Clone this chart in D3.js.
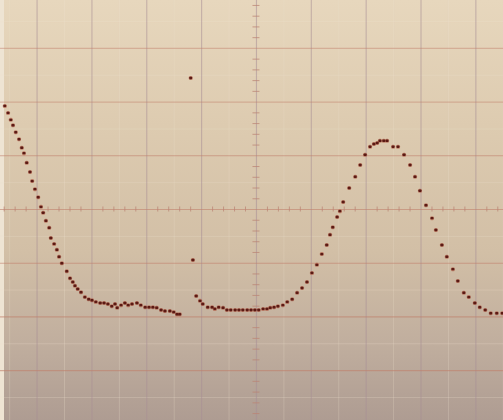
<!DOCTYPE html>
<html>
<head>
<meta charset="utf-8">
<script src="https://cdn.jsdelivr.net/npm/d3@7"></script>
<style>
  html, body { margin: 0; padding: 0; background: #efe6d6; }
  svg { display: block; }
</style>
</head>
<body>
<svg id="scope" width="503" height="420"></svg>
<script>
/* trace, in graticule divisions (0,0 = screen centre) */
var traceTime = [
  -4.58, -4.52, -4.47, -4.43, -4.38, -4.32, -4.27, -4.23, -4.18, -4.12,
  -4.08, -4.03, -3.97, -3.92, -3.88, -3.83, -3.77, -3.74, -3.68, -3.63,
  -3.59, -3.54, -3.45, -3.39, -3.34, -3.30, -3.25, -3.19, -3.12, -3.05,
  -2.99, -2.92, -2.84, -2.77, -2.70, -2.63, -2.57, -2.53, -2.46, -2.39,
  -2.33, -2.26, -2.17, -2.10, -2.02, -1.95, -1.88, -1.81, -1.73, -1.66,
  -1.57, -1.50, -1.44, -1.39
];
var traceVolts = [
   1.92,  1.79,  1.66,  1.56,  1.43,  1.30,  1.14,  1.04,  0.86,  0.69,
   0.52,  0.37,  0.22,  0.04, -0.07, -0.22, -0.35, -0.54, -0.65, -0.76,
  -0.89, -1.01, -1.16, -1.29, -1.36, -1.43, -1.49, -1.55, -1.64, -1.68,
  -1.70, -1.73, -1.75, -1.75, -1.77, -1.81, -1.77, -1.84, -1.79, -1.75,
  -1.79, -1.77, -1.75, -1.79, -1.83, -1.83, -1.83, -1.84, -1.88, -1.90,
  -1.90, -1.92, -1.96, -1.96
];

// stray samples in the gap
var strayTime  = [-1.19, -1.15];
var strayVolts = [ 2.44, -0.95];

var pulseTime = [
  -1.09, -1.02, -0.97, -0.88, -0.80, -0.75, -0.68, -0.60, -0.53, -0.46,
  -0.38, -0.31, -0.24, -0.16, -0.09, -0.02,  0.05,  0.13,  0.20,  0.26,
   0.33,  0.40,  0.49,  0.57,  0.66,  0.75,  0.84,  0.93,  1.02,  1.11,
   1.20,  1.29,  1.35,  1.40,  1.48,  1.53,  1.59,  1.70,  1.81,  1.90,
   1.99,  2.08,  2.15,  2.21,  2.26,  2.33,  2.39,  2.50,  2.59,  2.70,
   2.81,  2.90,  2.99,  3.10,  3.21,  3.28,  3.39,  3.48,  3.59,  3.68,
   3.79,  3.88,  3.99,  4.08,  4.18,  4.28,  4.39,  4.49
];
var pulseVolts = [
  -1.62, -1.71, -1.77, -1.83, -1.83, -1.86, -1.83, -1.84, -1.88, -1.88,
  -1.88, -1.88, -1.88, -1.88, -1.88, -1.88, -1.88, -1.86, -1.86, -1.84,
  -1.83, -1.81, -1.79, -1.73, -1.68, -1.56, -1.47, -1.36, -1.19, -1.04,
  -0.84, -0.67, -0.48, -0.34, -0.15, -0.04,  0.13,  0.39,  0.60,  0.82,
   1.01,  1.16,  1.21,  1.23,  1.27,  1.27,  1.27,  1.16,  1.16,  1.01,
   0.82,  0.60,  0.34,  0.07, -0.17, -0.39, -0.67, -0.89, -1.12, -1.34,
  -1.56, -1.64, -1.75, -1.83, -1.88, -1.94, -1.94, -1.94
];

var majorTimeTicks  = [-4, -3, -2, -1, 0, 1, 2, 3, 4];
var majorVoltTicks  = [-3, -2, -1, 0, 1, 2, 3];

var W = 503, H = 420;
var svg = d3.select("#scope");

var x = d3.scaleLinear().domain([-4.667, 4.504]).range([0, W]);
var y = d3.scaleLinear().domain([3.892, -3.929]).range([0, H]);

// screen background, light on top, greyer towards the bottom
var defs = svg.append("defs");
var grad = defs.append("linearGradient")
  .attr("id", "screenBg").attr("x1", 0).attr("y1", 0).attr("x2", 0).attr("y2", 1);
grad.append("stop").attr("offset", "0%").attr("stop-color", "#e7d7bd");
grad.append("stop").attr("offset", "30%").attr("stop-color", "#ddcbb0");
grad.append("stop").attr("offset", "60%").attr("stop-color", "#d2bfa6");
grad.append("stop").attr("offset", "82%").attr("stop-color", "#c0ae9e");
grad.append("stop").attr("offset", "100%").attr("stop-color", "#ae9c92");

svg.append("rect")
  .attr("x", 0).attr("y", 0).attr("width", W).attr("height", H)
  .attr("fill", "url(#screenBg)");

// light strip at the left border of the photo
svg.append("rect")
  .attr("x", 0).attr("y", 0).attr("width", 4).attr("height", H)
  .attr("fill", "#eee4d3");

// faint lighter half-division lines
var minorT = d3.range(-4.5, 4.6, 1);
var minorV = d3.range(-3.5, 3.6, 1);
svg.append("g").attr("class", "minor")
  .attr("transform", "translate(0," + H + ")")
  .call(d3.axisBottom(x).tickValues(minorT).tickSize(-H).tickFormat(""))
  .call(g => g.select(".domain").remove())
  .call(g => g.selectAll("line").attr("stroke", "#efe2cf").attr("stroke-width", 1).attr("opacity", 0.25));

svg.append("g").attr("class", "minor")
  .call(d3.axisLeft(y).tickValues(minorV).tickSize(-W).tickFormat(""))
  .call(g => g.select(".domain").remove())
  .call(g => g.selectAll("line").attr("stroke", "#efe2cf").attr("stroke-width", 1).attr("opacity", 0.25));

// major graticule
svg.append("g").attr("class", "grid-x")
  .attr("transform", "translate(0," + H + ")")
  .call(d3.axisBottom(x).tickValues(majorTimeTicks).tickSize(-H).tickFormat(""))
  .call(g => g.select(".domain").remove())
  .call(g => g.selectAll("line").attr("stroke", "#a88e96").attr("stroke-width", 1.1).attr("opacity", 0.55));

svg.append("g").attr("class", "grid-y")
  .call(d3.axisLeft(y).tickValues(majorVoltTicks).tickSize(-W).tickFormat(""))
  .call(g => g.select(".domain").remove())
  .call(g => g.selectAll("line").attr("stroke", "#c0806c").attr("stroke-width", 1.1)
    .attr("opacity", d => d >= 2 ? 0.45 : 0.6));

// centre axes sub-division marks (5 per division)
var subT = d3.range(-4.6, 4.6, 0.2).filter(d => Math.abs(d - Math.round(d)) > 0.01);
var subV = d3.range(-3.8, 3.9, 0.2).filter(d => Math.abs(d - Math.round(d)) > 0.01);

svg.append("g").attr("class", "sub-x")
  .attr("transform", "translate(0," + (y(0) + 2.5) + ")")
  .call(d3.axisTop(x).tickValues(subT).tickSize(5).tickFormat(""))
  .call(g => g.select(".domain").remove())
  .call(g => g.selectAll("line").attr("stroke", "#bb8474").attr("stroke-width", 1).attr("opacity", 0.75));

svg.append("g").attr("class", "sub-y")
  .attr("transform", "translate(" + (x(0) + 3.5) + ",0)")
  .call(d3.axisLeft(y).tickValues(subV).tickSize(7).tickFormat(""))
  .call(g => g.select(".domain").remove())
  .call(g => g.selectAll("line").attr("stroke", "#bb8474").attr("stroke-width", 1).attr("opacity", 0.75));

// trace dots
function drawDots(ts, vs, cls) {
  var pts = ts.map((t, i) => ({t: t, v: vs[i]}));
  var g = svg.append("g").attr("class", cls);
  g.selectAll("rect.halo")
    .data(pts)
    .join("rect")
      .attr("class", "halo")
      .attr("x", d => x(d.t) - 2)
      .attr("y", d => y(d.v) - 2)
      .attr("width", 4)
      .attr("height", 4)
      .attr("rx", 1.5)
      .attr("fill", "#a8452f")
      .attr("opacity", 0.55);
  g.selectAll("rect.core")
    .data(pts)
    .join("rect")
      .attr("class", "core")
      .attr("x", d => x(d.t) - 1.5)
      .attr("y", d => y(d.v) - 1.2)
      .attr("width", 3)
      .attr("height", 2.4)
      .attr("rx", 0.8)
      .attr("fill", "#5a1a14");
}

drawDots(traceTime, traceVolts, "trace");
drawDots(strayTime, strayVolts, "stray");
drawDots(pulseTime, pulseVolts, "pulse");
</script>
</body>
</html>
